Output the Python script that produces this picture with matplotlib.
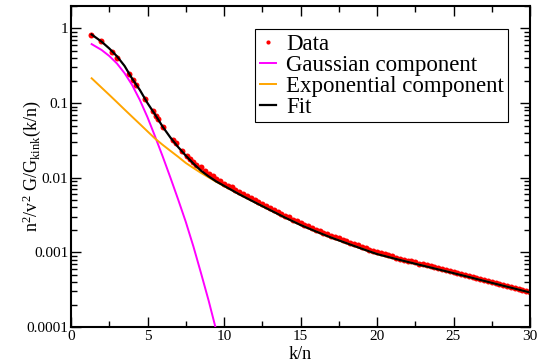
import matplotlib
matplotlib.use('Agg')
import matplotlib.pyplot as plt
from matplotlib.ticker import LogLocator, NullFormatter, MultipleLocator

plt.rcParams['font.family'] = ['Liberation Serif', 'DejaVu Serif']
plt.rcParams['mathtext.fontset'] = 'custom'
plt.rcParams['mathtext.rm'] = 'Liberation Serif'
plt.rcParams['mathtext.it'] = 'Liberation Serif:italic'

# measured points
data_x = [1.33, 1.94, 2.70, 3.03, 3.81, 4.03, 4.25, 4.84, 5.38, 5.55, 5.70, 5.99,
          6.69, 6.85, 7.23, 7.56, 7.78, 8.00, 8.17,
          8.5, 8.75, 9.0, 9.25, 9.5, 9.75, 10.0, 10.25, 10.5, 10.75, 11.0, 11.25,
          11.5, 11.75, 12.0, 12.25, 12.5, 12.75, 13.0, 13.25, 13.5, 13.75, 14.0,
          14.25, 14.5, 14.75, 15.0, 15.25, 15.5, 15.75, 16.0, 16.25, 16.5, 16.75,
          17.0, 17.25, 17.5, 17.75, 18.0, 18.25, 18.5, 18.75, 19.0, 19.25, 19.5,
          19.75, 20.0, 20.25, 20.5, 20.75, 21.0, 21.25, 21.5, 21.75, 22.0, 22.25,
          22.5, 22.75, 23.0, 23.25, 23.5, 23.75, 24.0, 24.25, 24.5, 24.75, 25.0,
          25.25, 25.5, 25.75, 26.0, 26.25, 26.5, 26.75, 27.0, 27.25, 27.5, 27.75,
          28.0, 28.25, 28.5, 28.75, 29.0, 29.25, 29.5, 29.75, 30.0]
data_y = [0.83, 0.675, 0.486, 0.40, 0.246, 0.207, 0.177, 0.114, 0.078, 0.068, 0.061, 0.048,
          0.0325, 0.029, 0.0228, 0.0195, 0.0180, 0.0165, 0.0150,
          0.01374, 0.01245, 0.01122, 0.01047, 0.00966, 0.00902, 0.00836, 0.00785,
          0.00741, 0.00687, 0.00646, 0.00610, 0.00569, 0.00537, 0.00501, 0.00476,
          0.00447, 0.00417, 0.00394, 0.00372, 0.00351, 0.00330, 0.00309, 0.00294,
          0.00275, 0.00260, 0.00248, 0.00234, 0.00224, 0.00211, 0.00202, 0.00193,
          0.00184, 0.00175, 0.00168, 0.00160, 0.00154, 0.00147, 0.00141, 0.00135,
          0.00129, 0.00124, 0.00119, 0.00114, 0.00109, 0.00105, 0.00100, 0.000966,
          0.000940, 0.000908, 0.000881, 0.000851, 0.000826, 0.000800, 0.000776,
          0.000755, 0.000733, 0.000708, 0.000689, 0.000668, 0.000650, 0.000631,
          0.000614, 0.000596, 0.000579, 0.000562, 0.000547, 0.000531, 0.000515,
          0.000499, 0.000484, 0.000470, 0.000455, 0.000442, 0.000429, 0.000417,
          0.000405, 0.000393, 0.000380, 0.000370, 0.000357, 0.000347, 0.000337,
          0.000327, 0.000318, 0.000308, 0.000296]

# curves
gauss_x = [1.35, 2.0, 2.5, 3.0, 3.5, 4.0, 4.5, 5.0, 5.5, 6.0, 6.5, 7.0, 7.5, 8.0, 8.5, 9.0, 9.5, 10.0]
gauss_y = [0.617, 0.515, 0.428, 0.340, 0.252, 0.174, 0.110, 0.0646, 0.0355, 0.0191, 0.0100,
           0.00513, 0.00257, 0.00120, 0.000525, 0.000224, 0.0000891, 0.0000331]

curve_x = [1.35, 2.0, 2.5, 3.0, 3.5, 4.0, 4.5, 5.0, 5.5, 6.0, 6.5, 7.0, 7.5, 8.0, 8.5, 9.0,
           9.5, 10, 11, 12, 13, 14, 15, 16, 17, 18, 19, 20, 21, 22, 23, 24, 25, 26, 27,
           28, 29, 30]
expo_y = [0.215, 0.161, 0.129, 0.103, 0.082, 0.0655, 0.0524, 0.0418, 0.0334, 0.0275, 0.0229,
          0.0191, 0.0158, 0.0135, 0.0116, 0.0101, 0.0088, 0.00776, 0.0060, 0.0047, 0.0037,
          0.00292, 0.00233, 0.00191, 0.00158, 0.00133, 0.00112, 0.00095, 0.00084,
          0.000746, 0.000664, 0.000592, 0.000527, 0.000468, 0.000415, 0.000368,
          0.000327, 0.00029]
fit_y = [0.83, 0.665, 0.54, 0.425, 0.315, 0.212, 0.150, 0.100, 0.070, 0.048, 0.0345,
         0.0258, 0.0198, 0.0155, 0.0124, 0.0104, 0.0089, 0.0078, 0.0060, 0.0047, 0.0037,
         0.00292, 0.00233, 0.00191, 0.00158, 0.00133, 0.00112, 0.00095, 0.00084,
         0.000746, 0.000664, 0.000592, 0.000527, 0.000468, 0.000415, 0.000368,
         0.000327, 0.00029]

fig = plt.figure(figsize=(5.41, 3.64), dpi=100)
ax = fig.add_axes([71/541, 1 - 327/364, 459/541, 321/364])

ax.plot(data_x, data_y, linestyle='none', marker='o', ms=4.3, mew=0, color='red', label='Data', zorder=2)
ax.plot(gauss_x, gauss_y, color='#ff00ff', lw=1.4, label='Gaussian component', zorder=3)
ax.plot(curve_x, expo_y, color='#ffa500', lw=1.4, label='Exponential component', zorder=3)
ax.plot(curve_x, fit_y, color='black', lw=1.6, label='Fit', zorder=4)

ax.set_yscale('log')
ax.set_xlim(0, 30)
ax.set_ylim(1e-4, 2)
ax.set_yticks([1e-4, 1e-3, 1e-2, 1e-1, 1])
ax.set_yticklabels(['0.0001', '0.001', '0.01', '0.1', '1'])
ax.yaxis.set_minor_locator(LogLocator(base=10, subs=range(2, 10)))
ax.yaxis.set_minor_formatter(NullFormatter())
ax.xaxis.set_major_locator(MultipleLocator(5))
ax.xaxis.set_minor_locator(MultipleLocator(2.5))

ax.tick_params(which='both', direction='in', top=True, right=True, labelsize=11, width=1)
ax.tick_params(which='major', length=7, pad=2)
ax.tick_params(which='minor', length=4)
for s in ax.spines.values():
    s.set_linewidth(1.5)

ax.set_xlabel('k/n', fontsize=13, labelpad=2.5)
ax.set_ylabel(r'$\mathrm{n^2/v^2\ G/G_{kink}(k/n)}$', fontsize=13)
ax.yaxis.set_label_coords(-0.062, 0.5)

leg = ax.legend(loc='upper left', bbox_to_anchor=(255/541, 1 - 29/364), bbox_transform=fig.transFigure,
                fontsize=16.5, frameon=True, fancybox=False, edgecolor='black', framealpha=1,
                handlelength=0.7, handletextpad=0.45, borderpad=0.2, labelspacing=0.0,
                borderaxespad=0, markerscale=0.7)
leg.get_frame().set_linewidth(0.8)

fig.savefig('out.png', dpi=100)
